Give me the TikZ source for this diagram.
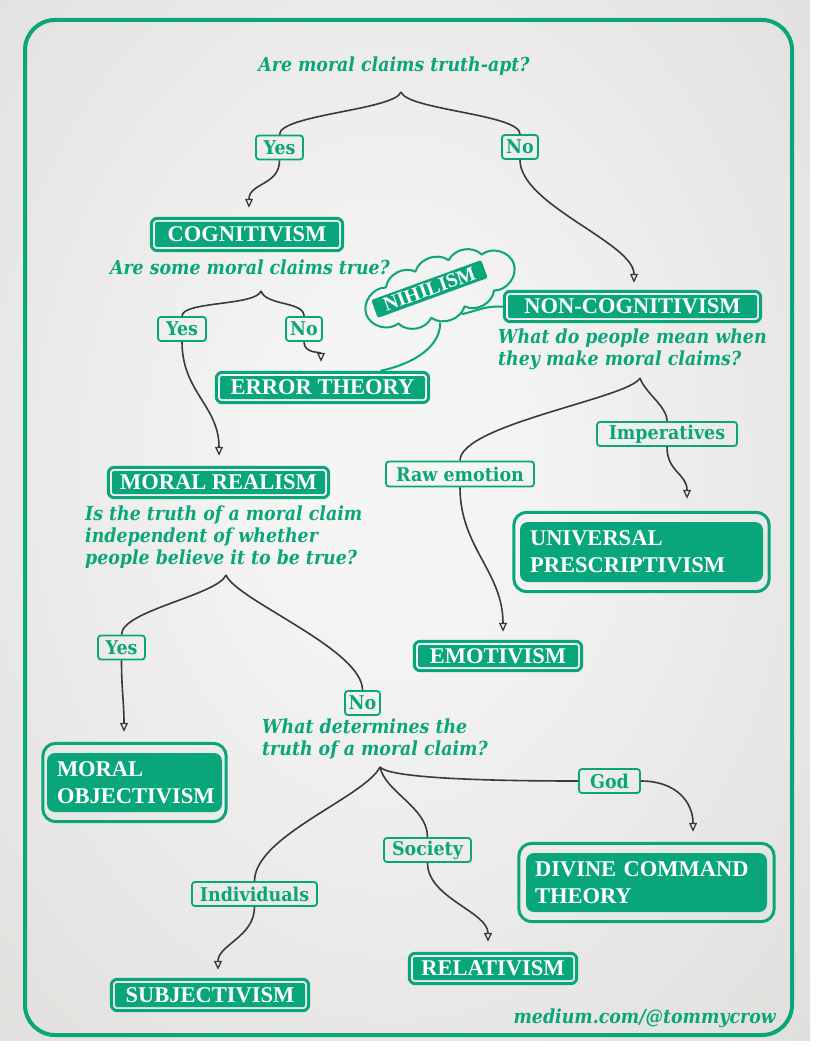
\documentclass[tikz,border=0pt]{standalone}
\usepackage{fontspec}
\usetikzlibrary{arrows.meta,fit,calc}
\newfontfamily\qfam[FakeStretch=0.9]{DejaVu Serif}
\newfontfamily\lblfam[FakeStretch=0.92]{DejaVu Serif}
\newfontfamily\boxfam{Liberation Serif}
\definecolor{G}{HTML}{08A67A}
\definecolor{DK}{HTML}{3A3A3A}
\definecolor{bgin}{HTML}{F5F5F4}
\definecolor{bgmid}{HTML}{D6D4D1}
\definecolor{bgout}{HTML}{C4C2BE}
\pgfdeclareradialshading{bgshade}{\pgfpoint{0bp}{0bp}}{color(0bp)=(bgin); color(6bp)=(bgin); color(50bp)=(bgmid); color(72bp)=(bgout)}
\begin{document}
\begin{tikzpicture}[x=1pt,y=-1pt,
  mainbox/.style={fill=G, text=white, font=\boxfam\bfseries\fontsize{22.5}{25}\selectfont, inner sep=0pt, rounded corners=2pt},
  ring/.style={draw=G, line width=3pt, rounded corners=6pt, inner sep=3.5pt},
  bigbox/.style={fill=G, text=white, font=\boxfam\bfseries\fontsize{22.5}{27}\selectfont, rounded corners=8pt, align=left, inner xsep=10pt, inner ysep=0pt},
  bigring/.style={draw=G, line width=3pt, rounded corners=13pt},
  lbl/.style={draw=G, line width=1.8pt, rounded corners=3pt, text=G, font=\lblfam\bfseries\fontsize{19}{20}\selectfont, inner sep=0pt, minimum height=24pt},
  qtext/.style={text=G, font=\qfam\bfseries\itshape\fontsize{19.3}{22}\selectfont, inner sep=0pt},
  conn/.style={draw=DK, line width=1.6pt, -{Triangle[open,length=9pt,width=8pt,line width=1.3pt]}},
  bracepath/.style={draw=DK, line width=1.6pt},
  gline/.style={draw=G, line width=2pt},
  puff/.style={bend left=55}]
\useasboundingbox (0,0) rectangle (816,1056);
\shade[shading=bgshade] (-30,-100) rectangle (810,1040);
\draw[G, line width=4pt, rounded corners=30pt] (25,20) rectangle (792,1035);

% questions
\node[qtext] (q1) at (394,66) {Are moral claims truth-apt?};
\node[qtext] (q2) at (250,267) {Are some moral claims true?};
\node[qtext, anchor=west, align=left] (q3) at (85,537) {Is the truth of a moral claim\\independent of whether\\people believe it to be true?};
\node[qtext, anchor=west, align=left] (q5) at (498,349) {What do people mean when\\they make moral claims?};
\node[qtext, anchor=west, align=left] (q4) at (262,739) {What determines the\\truth of a moral claim?};
\node[qtext, anchor=east] (sig) at (776,1018) {medium.com/@tommycrow};

% main single-line boxes
\node[mainbox, minimum width=184pt, minimum height=25pt] (cog) at (247,234.5) {COGNITIVISM};
\node[ring, fit=(cog)] (cogR) {};
\node[mainbox, minimum width=249pt, minimum height=23pt] (noncog) at (632.5,306.5) {NON-COGNITIVISM};
\node[ring, fit=(noncog)] (noncogR) {};
\node[mainbox, minimum width=205pt, minimum height=23pt] (err) at (322.5,387.5) {ERROR THEORY};
\node[ring, fit=(err)] (errR) {};
\node[mainbox, minimum width=213pt, minimum height=23pt] (mreal) at (218.5,482.5) {MORAL REALISM};
\node[ring, fit=(mreal)] (mrealR) {};
\node[mainbox, minimum width=160pt, minimum height=22pt] (emot) at (498,656) {EMOTIVISM};
\node[ring, fit=(emot)] (emotR) {};
\node[mainbox, minimum width=190pt, minimum height=24pt] (subj) at (210,995) {SUBJECTIVISM};
\node[ring, fit=(subj)] (subjR) {};
\node[mainbox, minimum width=160pt, minimum height=23pt] (rel) at (493,968.5) {RELATIVISM};
\node[ring, fit=(rel)] (relR) {};

% two-line boxes
\node[bigbox, text width=223pt, minimum height=60pt] (univ) at (641.5,552) {UNIVERSAL\\PRESCRIPTIVISM};
\node[bigring, fit=(univ), inner xsep=6pt, inner ysep=9.5pt] (univR) {};
\node[bigbox, text width=155pt, minimum height=59pt] (obj) at (134.5,782.5) {MORAL\\OBJECTIVISM};
\node[bigring, fit=(obj), inner xsep=4pt, inner ysep=9.5pt] (objR) {};
\node[bigbox, text width=223pt, minimum height=59pt, inner xsep=9pt] (div) at (646.5,882.5) {DIVINE COMMAND\\THEORY};
\node[bigring, fit=(div), inner xsep=7pt, inner ysep=9.5pt] (divR) {};

% nihilism cloud (drawn directly)
\begin{scope}[shift={(440,289)}, rotate=19]
  \draw[G, line width=2pt, line join=round]
    (78,0) to[puff] (50.6,19) to[puff] (17.6,24.4) to[puff] (-17.6,24.4)
    to[puff] (-50.6,19) to[puff] (-78,0) to[puff] (-50.6,-19)
    to[puff] (-17.6,-24.4) to[puff] (17.6,-24.4) to[puff] (50.6,-19)
    to[puff] (78,0);
  \coordinate (cl1) at (-10.8,32);
  \coordinate (cl2) at (12.4,31);
\end{scope}
\node[fill=G, text=white, font=\boxfam\bfseries\fontsize{20}{22}\selectfont, inner sep=0pt, rounded corners=2pt, rotate=20, minimum width=117pt, minimum height=19pt] (nih) at (429.5,289) {NIHILISM};
\draw[gline] (cl1) .. controls +(0,28) and +(25,-5) .. ([xshift=58pt]errR.north);
\draw[gline] (noncogR.west) .. controls +(-20,0) and +(20,-5) .. (cl2);

% labels
\node[lbl, minimum width=47pt] (yes1) at (279.5,147.5) {Yes};
\node[lbl, minimum width=36pt] (no1) at (520,147) {No};
\node[lbl, minimum width=48pt] (yes2) at (182,329) {Yes};
\node[lbl, minimum width=36pt] (no2) at (304,329) {No};
\node[lbl, minimum width=47pt] (yes3) at (121.5,647.5) {Yes};
\node[lbl, minimum width=35pt] (no3) at (362.5,703) {No};
\node[lbl, minimum width=140pt] (imp) at (667,434) {Imperatives};
\node[lbl, minimum width=148pt, minimum height=25pt] (raw) at (460,474) {Raw emotion};
\node[lbl, minimum width=61pt] (god) at (609.5,781) {God};
\node[lbl, minimum width=87pt] (soc) at (427.5,850) {Society};
\node[lbl, minimum width=125pt] (ind) at (254.5,894) {Individuals};

% brace apexes
\coordinate (a1) at (401,92);
\coordinate (a2) at (261,291);
\coordinate (a3) at (226,575);
\coordinate (a4) at (380,767);
\coordinate (a5) at (640,378);

% braces
\draw[bracepath] (yes1.north) .. controls +(0,-20) and +(-6,18) .. (a1);
\draw[bracepath] (no1.north) .. controls +(0,-20) and +(6,18) .. (a1);
\draw[bracepath] (yes2.north) .. controls +(0,-15) and +(-5,15) .. (a2);
\draw[bracepath] (no2.north) .. controls +(0,-15) and +(5,15) .. (a2);
\draw[bracepath] (yes3.north) .. controls +(0,-24) and +(-8,20) .. (a3);
\draw[bracepath] (no3.north) .. controls +(0,-41) and +(10,25) .. (a3);
\draw[bracepath] (god.west) .. controls +(-110,0) and +(8,10) .. (a4);
\draw[bracepath] (soc.north) .. controls +(0,-30) and +(5,25) .. (a4);
\draw[bracepath] (ind.north) .. controls +(0,-45) and +(-15,30) .. (a4);
\draw[bracepath] (imp.north) .. controls +(0,-15) and +(5,15) .. (a5);
\draw[bracepath] (raw.north) .. controls +(0,-36) and +(-10,20) .. (a5);

% arrows
\draw[conn] (yes1.south) .. controls +(0,25) and +(0,-25) .. ([shift={(2,-9)}]cogR.north);
\draw[conn] (no1.south) .. controls +(0,45) and +(0,-40) .. ([shift={(1.5,-7)}]noncogR.north);
\draw[conn] (no2.south) .. controls +(0,12) and +(0,-10) .. ([shift={(-1.5,-9)}]errR.north);
\draw[conn] (yes2.south) .. controls +(0,50) and +(0,-50) .. ([shift={(0.5,-10)}]mrealR.north);
\draw[conn] (yes3.south) .. controls +(0,30) and +(0,-30) .. ([shift={(-10.5,-10)}]objR.north);
\draw[conn] (imp.south) .. controls +(0,25) and +(0,-25) .. ([shift={(45.5,-12)}]univR.north);
\draw[conn] (raw.south) .. controls +(0,60) and +(0,-60) .. ([shift={(5,-8)}]emotR.north);
\draw[conn] (god.east) .. controls +(35,0) and +(0,-30) .. ([shift={(46.5,-10)}]divR.north);
\draw[conn] (soc.south) .. controls +(0,35) and +(0,-30) .. ([shift={(-5,-10)}]relR.north);
\draw[conn] (ind.south) .. controls +(0,30) and +(0,-25) .. ([shift={(8,-8)}]subjR.north);
\end{tikzpicture}
\end{document}
